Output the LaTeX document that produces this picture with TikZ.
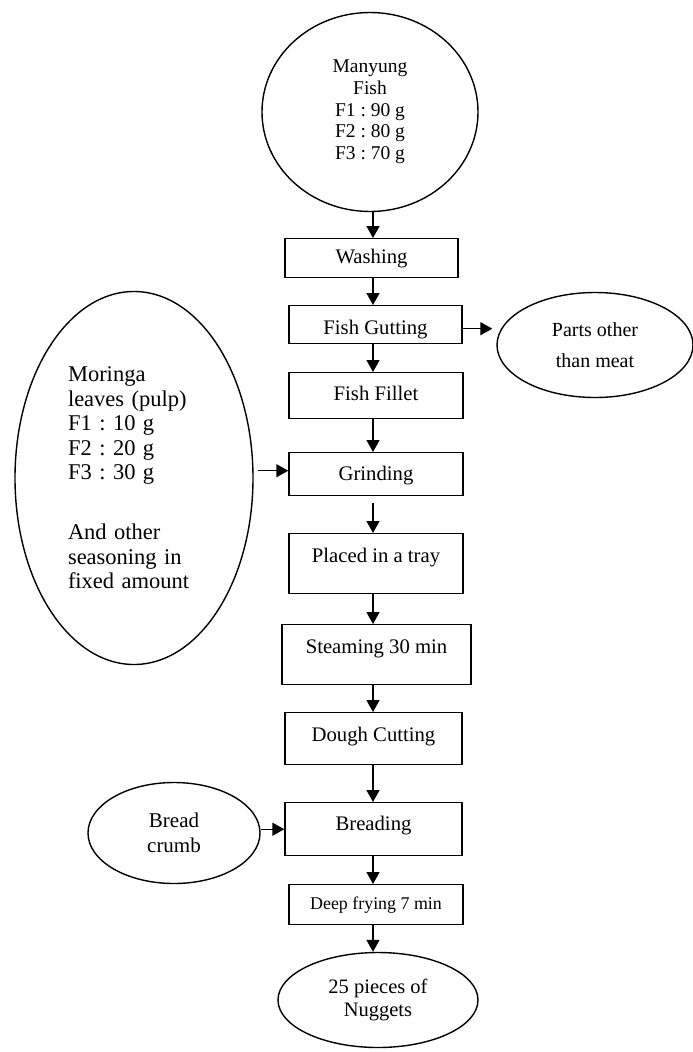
\documentclass[tikz,border=0pt]{standalone}
\usepackage{fontspec}
\setmainfont{Liberation Serif}
\usetikzlibrary{arrows.meta,shapes.geometric}
\begin{document}
\frenchspacing
\begin{tikzpicture}[x=1pt,y=-1pt,
  lw/.style={line width=1.4pt},
  box/.style={draw, lw, rectangle, inner sep=0pt, anchor=north, font=\fontsize{20.7}{22}\selectfont},
  oval/.style={draw, lw, ellipse, inner sep=0pt, align=center},
  arr/.style={lw, -{Triangle[width=13pt,length=12pt]}}]
\useasboundingbox (0,0) rectangle (693,1052);
\fill[white] (0,0) rectangle (693,1052);
\coordinate (col) at (373,0);
% main column
\node[oval, minimum width=216pt, minimum height=199pt, font=\fontsize{19.5}{21.7}\selectfont] (man) at (370,112) {Manyung\\Fish\\F1 : 90 g\\F2 : 80 g\\F3 : 70 g};
\node[box, minimum width=173pt, text height=25pt, text depth=14pt] (wash) at (371.5,238) {Washing};
\node[box, minimum width=173pt, text height=29pt, text depth=9pt] (gut) at (375.5,305) {Fish Gutting};
\node[box, minimum width=174pt, text height=28pt, text depth=18pt] (fil) at (376,372) {Fish Fillet};
\node[box, minimum width=174pt, text height=28pt, text depth=15pt] (gri) at (376,452) {Grinding};
\node[box, minimum width=174pt, text height=29pt, text depth=31pt] (tray) at (376,533) {Placed in a tray};
\node[box, minimum width=189pt, text height=29pt, text depth=31pt] (steam) at (376.5,624) {Steaming 30 min};
\node[box, minimum width=177pt, text height=29pt, text depth=23pt] (dough) at (373.5,712) {Dough Cutting};
\node[box, minimum width=177pt, text height=28pt, text depth=25pt] (bread) at (373.5,802) {Breading};
\node[box, minimum width=174pt, text height=25pt, text depth=15pt, font=\fontsize{17.9}{19}\selectfont] (fry) at (376,884) {Deep frying 7 min};
\node[oval, minimum width=200pt, minimum height=95pt, font=\fontsize{20.5}{23}\selectfont] (nug) at (378,1000) {25 pieces of\\Nuggets};
% side nodes
\node[oval, minimum width=196pt, minimum height=105pt, font=\fontsize{20}{30.7}\selectfont] (parts) at (595,345) {Parts other\\than meat};
\node[oval, minimum width=238pt, minimum height=373pt, font=\fontsize{22.5}{24.5}\selectfont, align=left, text width=132pt] (mor) at (134,478) {Moringa\\leaves (pulp)\\F1 : 10 g\\F2 : 20 g\\F3 : 30 g\\[35.5pt]And other\\seasoning in\\fixed amount};
\node[oval, minimum width=172pt, minimum height=101pt, font=\fontsize{21}{24.7}\selectfont] (crumb) at (174,833) {Bread\\crumb};
% connectors
\draw[arr] (man.south -| col) -- (wash.north -| col);
\draw[arr] (wash.south -| col) -- (gut.north -| col);
\draw[arr] (gut.south -| col) -- (fil.north -| col);
\draw[arr] (fil.south -| col) -- (gri.north -| col);
\draw[arr, shorten <=7pt] (gri.south -| col) -- (tray.north -| col);
\draw[arr] (tray.south -| col) -- (steam.north -| col);
\draw[arr] (steam.south -| col) -- (dough.north -| col);
\draw[arr] (dough.south -| col) -- (bread.north -| col);
\draw[arr] (bread.south -| col) -- (fry.north -| col);
\draw[arr] (fry.south -| col) -- (nug.north -| col);
\draw[arr, shorten >=4pt] ([yshift=-4pt]gut.east) -- ([yshift=-4pt]gut.east -| parts.west);
\draw[arr, shorten <=4pt] ([yshift=3.5pt]gri.west -| mor.east) -- ([yshift=3.5pt]gri.west);
\draw[arr] (crumb.east |- bread.west) -- (bread.west);
\end{tikzpicture}
\end{document}
